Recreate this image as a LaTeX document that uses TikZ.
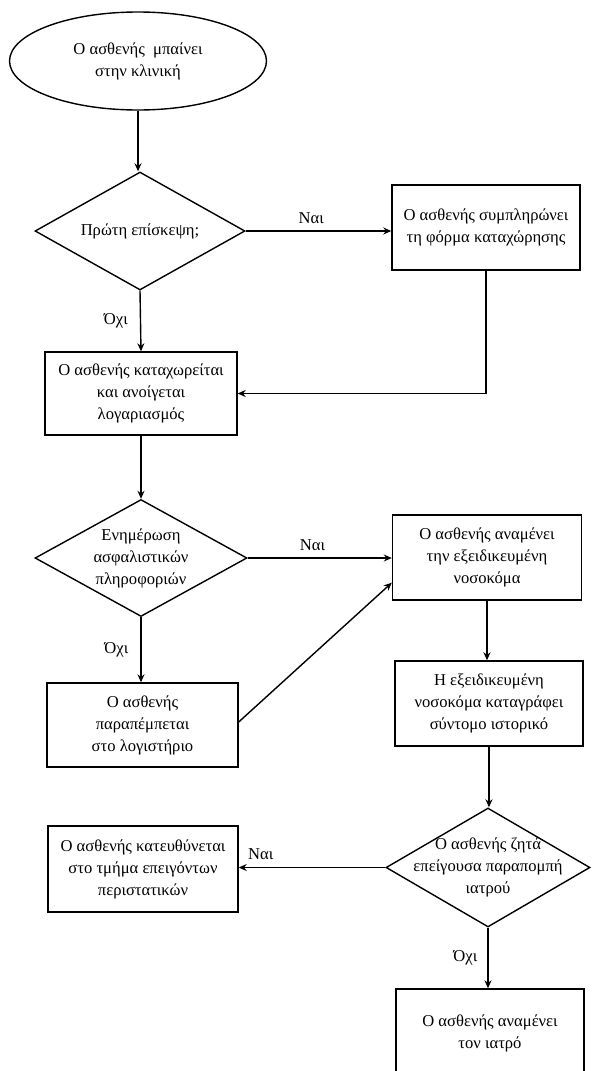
\documentclass[tikz,border=0pt]{standalone}
\usepackage{fontspec}
\setmainfont{Liberation Serif}
\usetikzlibrary{shapes.geometric,arrows.meta,calc}
\begin{document}
\begin{tikzpicture}[x=1pt,y=1pt,
  every node/.style={font=\fontsize{16.6}{22}\selectfont},
  base/.style={draw=black, line width=1.4pt, inner sep=0pt},
  procbox/.style={base, rectangle, align=center},
  startnode/.style={base, ellipse, align=center},
  dia/.style={base, diamond},
  txt/.style={align=center, inner sep=0pt},
  lbl/.style={inner sep=0pt},
  conn/.style={line width=1.4pt, -{Stealth[length=8pt,width=7pt]}},
  plain/.style={line width=1.4pt}
]
\useasboundingbox (0,0) rectangle (593,-1071);
\clip (0,0) rectangle (593,-1071);
\fill[white] (0,0) rectangle (593,-1071);

\node[startnode, minimum width=257pt, minimum height=98pt] (start) at (138,-61) {Ο ασθενής\ \ μπαίνει\\στην κλινική};

\node[dia, minimum width=210pt, minimum height=118pt, label={[txt]center:{Πρώτη επίσκεψη;}}] (d1) at (140,-231) {};

\node[procbox, minimum width=188pt, minimum height=85pt] (b2) at (486,-227.5) {Ο ασθενής συμπληρώνει\\τη φόρμα καταχώρησης};

\node[procbox, minimum width=192pt, minimum height=83pt] (b3) at (141,-393.5) {Ο ασθενής καταχωρείται\\και ανοίγεται\\λογαριασμός};

\node[dia, minimum width=212pt, minimum height=117pt, label={[txt]center:{Ενημέρωση\\ασφαλιστικών\\πληροφοριών}}] (d2) at (141,-558) {};

\node[procbox, minimum width=189pt, minimum height=85pt] (b4) at (487,-557.5) {Ο ασθενής αναμένει\\την εξειδικευμένη\\νοσοκόμα};

\node[procbox, minimum width=191pt, minimum height=84pt] (b6) at (142.5,-725) {Ο ασθενής\\παραπέμπεται\\στο λογιστήριο};

\node[procbox, minimum width=188pt, minimum height=85pt] (b5) at (489,-703.5) {Η εξειδικευμένη\\νοσοκόμα καταγράφει\\σύντομο ιστορικό};

\node[dia, minimum width=204pt, minimum height=119pt, label={[txt]center:{Ο ασθενής ζητά\\επείγουσα παραπομπή\\ιατρού}}] (d3) at (488,-867.5) {};

\node[procbox, minimum width=190pt, minimum height=86pt] (b7) at (143,-869) {Ο ασθενής κατευθύνεται\\στο τμήμα επειγόντων\\περιστατικών};

\node[procbox, minimum width=188pt, minimum height=89pt] (b8) at (490,-1033.5) {Ο ασθενής αναμένει\\τον ιατρό};

% connectors
\draw[conn] (start.south) -- (start.south |- d1.north);
\draw[conn] (d1.east) -- (d1.east -| b2.west) node[lbl, pos=0.45, above=7pt] (l1) {Ναι};
\draw[conn] (b2.south) |- (b3.east);
\draw[conn] (d1.south) -- (b3.north) node[lbl, midway, left=12pt] (l2) {Όχι};
\draw[conn] (b3.south) -- (b3.south |- d2.north);
\draw[conn] (d2.east) -- (d2.east -| b4.west) node[lbl, pos=0.45, above=7pt] (l3) {Ναι};
\draw[conn] (d2.south) -- (d2.south |- b6.north) node[lbl, midway, left=12pt] (l4) {Όχι};
\coordinate (b4in) at ($(b4.south west)+(0,18)$);
\draw[conn] ($(b6.east)+(0,3)$) -- (b4in);
\draw[conn] (b4.south) -- (b4.south |- b5.north);
\draw[conn] (b5.south) -- (b5.south |- d3.north);
\draw[conn] (d3.west) -- (d3.west -| b7.east) node[lbl, pos=0.85, above=7pt] (l5) {Ναι};
\draw[conn] (d3.south) -- (d3.south |- b8.north) node[lbl, midway, left=10pt] (l6) {Όχι};
\end{tikzpicture}
\end{document}
